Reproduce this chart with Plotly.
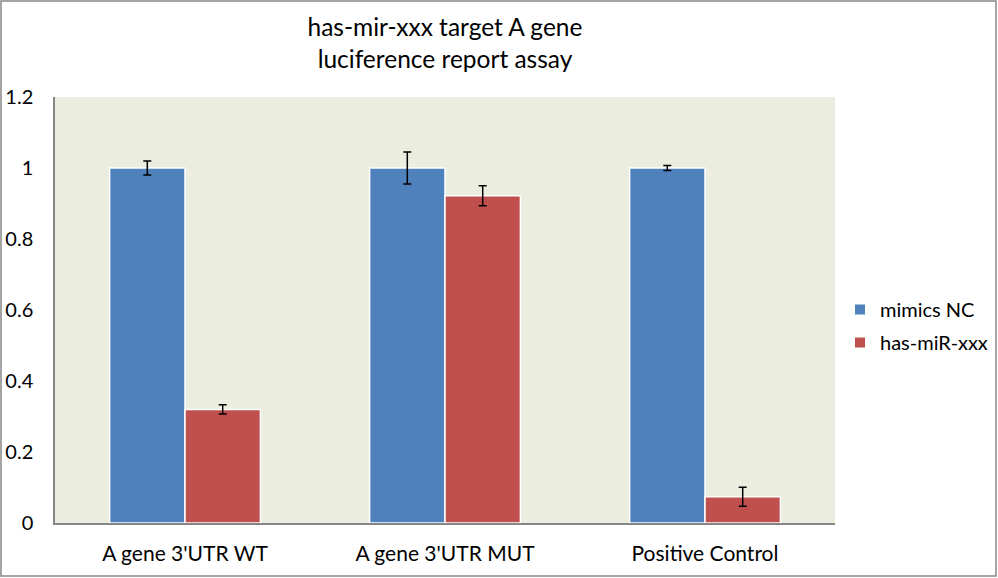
import plotly.graph_objects as go

categories = ["A gene 3'UTR WT", "A gene 3'UTR MUT", "Positive Control"]
mimics_nc = [1.0, 1.0, 1.0]
mimics_nc_err = [0.02, 0.045, 0.007]
has_mir = [0.32, 0.922, 0.074]
has_mir_err = [0.013, 0.028, 0.027]
y_ticks = [0, 0.2, 0.4, 0.6, 0.8, 1, 1.2]

W, H = 998, 578
L, R, T, B = 55, 163, 97, 55
pw, ph = W - L - R, H - T - B

fig = go.Figure()
fig.add_trace(go.Bar(
    name="mimics NC", x=categories, y=mimics_nc, legendgroup="a",
    marker=dict(color="#4F81BD", line=dict(color="white", width=1.5)),
    error_y=dict(type="data", array=mimics_nc_err, color="black", thickness=1.5, width=4),
))
fig.add_trace(go.Bar(
    name="has-miR-xxx", x=categories, y=has_mir, legendgroup="b",
    marker=dict(color="#C0504D", line=dict(color="white", width=1.5)),
    error_y=dict(type="data", array=has_mir_err, color="black", thickness=1.5, width=4),
))

font = "Lato, 'Open Sans', sans-serif"
fig.update_layout(
    width=W, height=H,
    margin=dict(l=L, r=R, t=T, b=B, autoexpand=False),
    paper_bgcolor="white",
    plot_bgcolor="#EBEEDF",
    barmode="group",
    bargap=0.42,
    bargroupgap=0,
    font=dict(family=font, size=20, color="black"),
    title=dict(text="has-mir-xxx target A gene<br>luciference report assay",
               x=0.5, xanchor="center", xref="paper", y=1 - 36 / H, yanchor="middle",
               font=dict(family=font, size=24.5, color="black")),
    showlegend=True,
    legend=dict(x=(840 - L - pw) / pw + 1, y=(H - B - 326) / ph, xanchor="left", yanchor="middle",
                font=dict(family=font, size=20), tracegroupgap=4,
                itemsizing="constant", bgcolor="rgba(0,0,0,0)"),
    xaxis=dict(showline=True, linecolor="#868686", linewidth=1.5,
               ticks="", showgrid=False, tickfont=dict(size=21), ticklabelstandoff=11),
    yaxis=dict(range=[0, 1.2], tickvals=y_ticks, ticktext=["0", "0.2", "0.4", "0.6", "0.8", "1", "1.2"],
               showline=True, linecolor="#868686", linewidth=1.5,
               showgrid=False, zeroline=False, ticks="", tickfont=dict(size=20),
               ticklabelstandoff=16),
    shapes=[dict(type="rect", xref="paper", yref="paper",
                 x0=(1 - L) / pw, x1=(W - 2 - L) / pw,
                 y0=-(B - 2) / ph, y1=(H - B - 1) / ph,
                 line=dict(color="#868686", width=1.5), fillcolor="rgba(0,0,0,0)", layer="below")],
)

fig.write_html("out.html", config={"displayModeBar": False},
               post_script="document.body.style.margin='0';document.body.style.overflow='hidden';")
